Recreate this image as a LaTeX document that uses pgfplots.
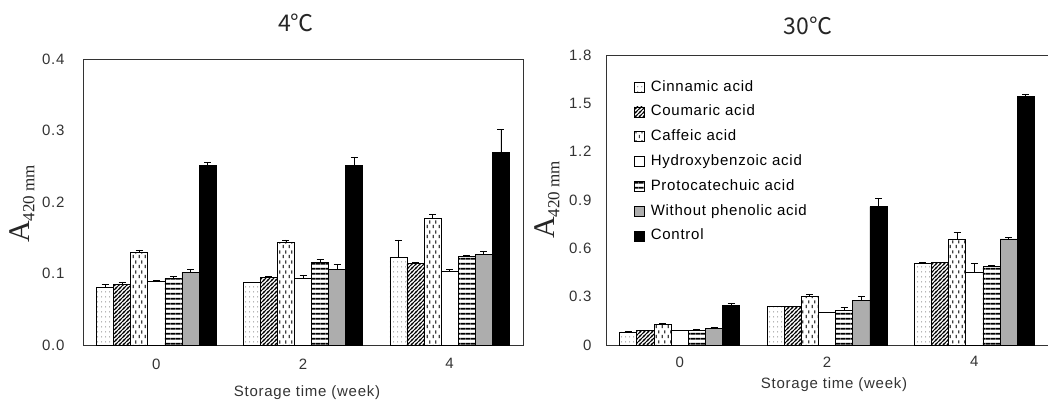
\documentclass[border=0pt]{standalone}
\usepackage{fontspec}
\setmainfont{Liberation Sans}
\newfontfamily\lsp[LetterSpace=5]{Liberation Sans}
\newfontfamily\lserif{Liberation Serif}
\newfontfamily\cjk{Noto Sans CJK SC}
\usepackage{pgfplots}
\usepackage{pgfplotstable}
\pgfplotsset{compat=1.18}
\usetikzlibrary{patterns.meta}

\tikzdeclarepattern{name=cdots, type=uncolored,
  bounding box={(0pt,0pt) and (4pt,5pt)}, tile size={(4pt,5pt)},
  code={\fill (2pt,2.5pt) circle (0.7pt);}}
\tikzdeclarepattern{name=vdash, type=uncolored,
  bounding box={(0pt,0pt) and (5.5pt,10pt)}, tile size={(5.5pt,10pt)},
  code={\fill (0.8pt,1pt) rectangle (2.1pt,4.4pt); \fill (3.5pt,6pt) rectangle (4.8pt,9.4pt);}}
\tikzdeclarepattern{name=dlines, type=uncolored,
  bounding box={(-1pt,-1pt) and (5pt,5pt)}, tile size={(4pt,4pt)},
  code={\draw[line width=0.8pt] (-1pt,-1pt)--(5pt,5pt); \draw[line width=0.8pt] (-1pt,3pt)--(1pt,5pt); \draw[line width=0.8pt] (3pt,-1pt)--(5pt,1pt);}}
\tikzdeclarepattern{name=hlines, type=uncolored,
  bounding box={(0pt,0pt) and (5.2pt,5.2pt)}, tile size={(5.2pt,5.2pt)},
  code={\fill (0pt,1.6pt) rectangle (5.2pt,3.6pt);}}

% 4 C
\pgfplotstableread{
x cin cou caf hyd pro wit con ecin ecou ecaf ehyd epro ewit econ
0 0.081 0.085 0.129 0.0895 0.093 0.102 0.251 0.004 0.002 0.004 0.001 0.003 0.004 0.004
2 0.087 0.095 0.144 0.093 0.116 0.106 0.251 0.001 0.001 0.003 0.005 0.004 0.007 0.012
4 0.123 0.114 0.177 0.103 0.1245 0.127 0.269 0.024 0.002 0.006 0.003 0.001 0.004 0.033
}\tabA
% 30 C
\pgfplotstableread{
x cin cou caf hyd pro wit con ecin ecou ecaf ehyd epro ewit econ
0 0.081 0.089 0.128 0.089 0.093 0.101 0.248 0.003 0.003 0.006 0.002 0.004 0.010 0.013
2 0.238 0.238 0.304 0.201 0.217 0.279 0.859 0.003 0.003 0.013 0.003 0.017 0.025 0.050
4 0.507 0.511 0.658 0.453 0.486 0.658 1.541 0.003 0.003 0.041 0.054 0.008 0.012 0.015
}\tabB

\pgfplotsset{
  mybar/.style={ybar, bar width=0.233, bar shift=0pt, draw=black, line width=0.7pt,
    legend image code/.code={\draw[##1, line width=0.7pt] (0pt,-5pt) rectangle (10pt,5pt);},
    error bars/y dir=plus, error bars/y explicit,
    error bars/error bar style={line width=0.8pt, black},
    error bars/error mark options={rotate=90, mark size=3.5pt, line width=0.8pt, black}},
  s1/.style={mybar, pattern=cdots, pattern color=black!50},
  s2/.style={mybar, pattern=dlines, pattern color=black},
  s3/.style={mybar, pattern=vdash, pattern color=black!75},
  s4/.style={mybar, fill=white},
  s5/.style={mybar, pattern=hlines, pattern color=black},
  s6/.style={mybar, fill=black!32},
  s7/.style={mybar, fill=black},
  common/.style={scale only axis, anchor=south west,
    xmin=-1, xmax=5, ymin=0, xtick={0,2,4}, xticklabels={0,2,4},
    major tick length=0pt,
    axis line style={line width=1pt, black!80},
    ticklabel style={font=\lsp\fontsize{15}{15}\selectfont, text=black!80},
    /pgf/number format/assume math mode=true,
    clip=false},
}

\begin{document}
\begin{tikzpicture}
\begin{axis}[common, at={(83pt,-345pt)}, width=440pt, height=286pt,
  ymax=0.4, ytick={0,0.1,0.2,0.3,0.4}, yticklabels={0.0,0.1,0.2,0.3,0.4},
  yticklabel style={xshift=-15pt}, xticklabel style={yshift=-10pt}]
\addplot[s1] table[x expr=\thisrow{x}-3*0.233, y=cin, y error=ecin]{\tabA};
\addplot[s2] table[x expr=\thisrow{x}-2*0.233, y=cou, y error=ecou]{\tabA};
\addplot[s3] table[x expr=\thisrow{x}-1*0.233, y=caf, y error=ecaf]{\tabA};
\addplot[s4] table[x expr=\thisrow{x}, y=hyd, y error=ehyd]{\tabA};
\addplot[s5] table[x expr=\thisrow{x}+1*0.233, y=pro, y error=epro]{\tabA};
\addplot[s6] table[x expr=\thisrow{x}+2*0.233, y=wit, y error=ewit]{\tabA};
\addplot[s7] table[x expr=\thisrow{x}+3*0.233, y=con, y error=econ]{\tabA};
\end{axis}

\begin{axis}[common, at={(606pt,-345pt)}, width=442pt, height=290pt,
  ymax=1.8, ytick={0,0.3,0.6,0.9,1.2,1.5,1.8}, yticklabels={0,0.3,0.6,0.9,1.2,1.5,1.8},
  yticklabel style={xshift=-11pt}, xticklabel style={yshift=-8pt},
  legend style={at={(rel axis cs:0.063,0.921)}, anchor=north west, draw=none, fill=none,
    inner sep=0pt, row sep=6.8pt, font=\lsp\fontsize{15}{15}\selectfont,
    nodes={text height=11pt, text depth=3pt, inner sep=2pt},
    /tikz/every odd column/.append style={column sep=4pt}},
  legend cell align=left]
\addplot[s1] table[x expr=\thisrow{x}-3*0.233, y=cin, y error=ecin]{\tabB};
\addlegendentry{Cinnamic acid}
\addplot[s2] table[x expr=\thisrow{x}-2*0.233, y=cou, y error=ecou]{\tabB};
\addlegendentry{Coumaric acid}
\addplot[s3] table[x expr=\thisrow{x}-1*0.233, y=caf, y error=ecaf]{\tabB};
\addlegendentry{Caffeic acid}
\addplot[s4] table[x expr=\thisrow{x}, y=hyd, y error=ehyd]{\tabB};
\addlegendentry{Hydroxybenzoic acid}
\addplot[s5] table[x expr=\thisrow{x}+1*0.233, y=pro, y error=epro]{\tabB};
\addlegendentry{Protocatechuic acid}
\addplot[s6] table[x expr=\thisrow{x}+2*0.233, y=wit, y error=ewit]{\tabB};
\addlegendentry{Without phenolic acid}
\addplot[s7] table[x expr=\thisrow{x}+3*0.233, y=con, y error=econ]{\tabB};
\addlegendentry{Control}
\end{axis}

% titles
\node[font=\cjk\fontsize{23}{23}\selectfont, text=black!85] at (296pt,-23pt) {4℃};
\node[font=\cjk\fontsize{23}{23}\selectfont, text=black!85] at (808pt,-26pt) {30℃};
% x labels
\node[font=\lsp\fontsize{15}{15}\selectfont, text=black!80] at (307pt,-393pt) {Storage time (week)};
\node[font=\lsp\fontsize{15}{15}\selectfont, text=black!80] at (834pt,-385pt) {Storage time (week)};
% y labels
\node[rotate=90, text=black!85] at (22pt,-204pt) {{\lserif\fontsize{30}{30}\selectfont A}\raisebox{-5pt}{\lserif\fontsize{17}{17}\selectfont 420 mm}};
\node[rotate=90, text=black!85] at (547pt,-200pt) {{\lserif\fontsize{30}{30}\selectfont A}\raisebox{-5pt}{\lserif\fontsize{17}{17}\selectfont 420 mm}};

\pgfresetboundingbox
\useasboundingbox (0pt,0pt) rectangle (1048pt,-408pt);
\end{tikzpicture}
\end{document}
